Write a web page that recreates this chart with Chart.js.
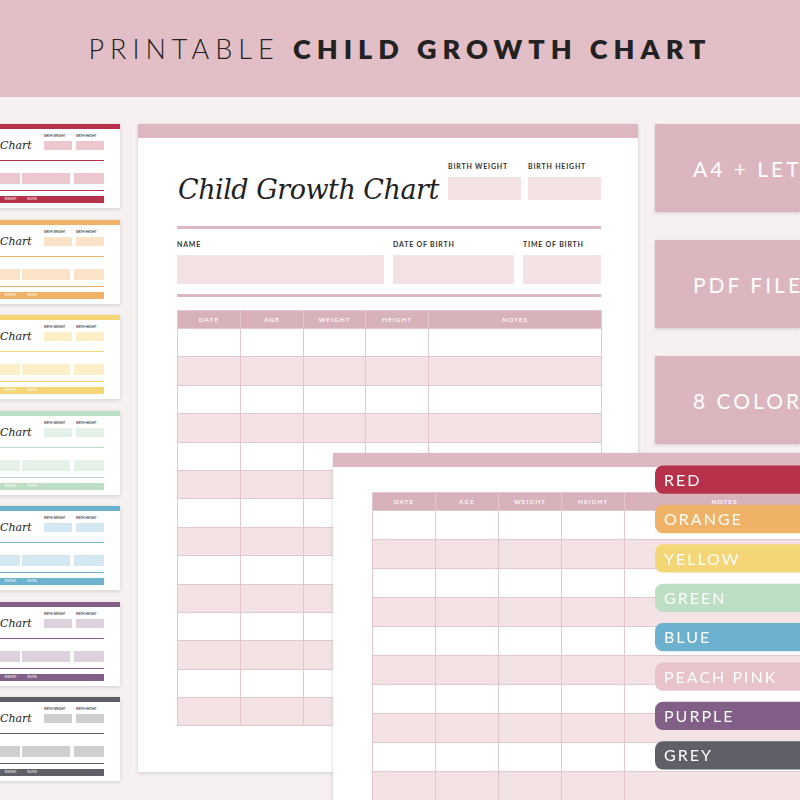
<!DOCTYPE html>
<html><head><meta charset="utf-8">
<script src="https://cdn.jsdelivr.net/npm/chart.js@4/dist/chart.umd.min.js"></script>
<style>
body{margin:0;width:800px;height:800px;overflow:hidden;background:#f6f0f1;font-family:Lato,"Open Sans",sans-serif;position:relative}
.abs{position:absolute}
#top{left:0;top:0;width:800px;height:97px;background:#e2bfc6;display:flex;align-items:center;justify-content:center;font-size:27px;letter-spacing:6px;color:#222;font-weight:300}
#top b{font-weight:800}
.sheet{background:#fff;box-shadow:0 1px 4px rgba(0,0,0,.15)}
.bar{background:#ddb8c0}
.lbl{font-size:7px;font-weight:700;letter-spacing:.8px;color:#333}
.fld{background:#f3e3e5}
.box{background:#dcb6be;color:#fff;font-size:21px;letter-spacing:3px;display:flex;align-items:center;padding-left:38px;box-sizing:border-box;overflow:hidden;white-space:nowrap;left:655px;width:145px;height:88px;box-shadow:0 1px 3px rgba(0,0,0,.15)}
table{border-collapse:collapse;position:absolute;table-layout:fixed}
td,th{border:1px solid #e2c7cc;padding:0}
th{background:#d8b2ba;color:#fff;font-size:6.5px;letter-spacing:1px;font-weight:600}
tr:nth-child(odd) td{background:#f3e3e5}
.script{font-family:"DejaVu Serif",serif;font-style:italic;font-size:27px;color:#222;letter-spacing:-0.5px}
</style></head><body>
<div id="top" class="abs">PRINTABLE&nbsp;<b>CHILD GROWTH CHART</b></div>
<div id="thumbs"></div>
<div class="abs sheet" style="left:138px;top:124px;width:500px;height:648px">
 <div class="bar" style="height:14px"></div>
 <div class="abs script" style="left:40px;top:50px">Child Growth Chart</div>
 <div class="abs lbl" style="left:310px;top:38px">BIRTH WEIGHT</div>
 <div class="abs lbl" style="left:390px;top:38px">BIRTH HEIGHT</div>
 <div class="abs fld" style="left:310px;top:53px;width:73px;height:23px"></div>
 <div class="abs fld" style="left:390px;top:53px;width:73px;height:23px"></div>
 <div class="abs bar" style="left:39px;top:102px;width:424px;height:3px"></div>
 <div class="abs lbl" style="left:39px;top:116px">NAME</div>
 <div class="abs lbl" style="left:255px;top:116px">DATE OF BIRTH</div>
 <div class="abs lbl" style="left:385px;top:116px">TIME OF BIRTH</div>
 <div class="abs fld" style="left:39px;top:131px;width:207px;height:29px"></div>
 <div class="abs fld" style="left:255px;top:131px;width:121px;height:29px"></div>
 <div class="abs fld" style="left:385px;top:131px;width:78px;height:29px"></div>
 <div class="abs bar" style="left:39px;top:170px;width:424px;height:3px"></div>
</div>
<div class="abs box" style="top:124px">A4 + LETTER</div>
<div class="abs box" style="top:240px">PDF FILE</div>
<div class="abs box" style="top:356px">8 COLORS</div>
<div class="abs sheet" style="left:333px;top:453px;width:480px;height:360px"><div class="bar" style="height:14px"></div></div>
<div id="tabs" class="abs" style="left:650px;top:460px;width:150px;height:315px"><canvas id="c" width="150" height="315"></canvas></div>
<script>
const tabLabels=["RED","ORANGE","YELLOW","GREEN","BLUE","PEACH PINK","PURPLE","GREY"];
const tabColors=["#b8314a","#efb266","#f5d677","#bcdec3","#6cb1cd","#e8c3c9","#825f86","#5e5f67"];
const tabValues=[1,1,1,1,1,1,1,1];
const colHeads=["DATE","AGE","WEIGHT","HEIGHT","NOTES"];
const thumbColors=["#b8314a","#efb266","#f5d677","#bcdec3","#6cb1cd","#825f86","#5e5f67"];
const thumbFill=["#ecc7cd","#fbe3c8","#fcefc8","#e4f1e6","#d3e8f1","#ddd1de","#cfcfd2"];

function makeTable(left,top,widths,hh,rh,n,z){
 let t=document.createElement('table');t.style.left=left+'px';t.style.top=top+'px';t.style.zIndex=z;
 t.style.width=widths.reduce((a,b)=>a+b,0)+'px';
 let h='<colgroup>'+widths.map(w=>`<col style="width:${w}px">`).join('')+'</colgroup>';
 h+='<tr>'+colHeads.map(c=>`<th style="height:${hh}px">${c}</th>`).join('')+'</tr>';
 for(let r=0;r<n;r++)h+='<tr>'+widths.map(w=>`<td style="height:${rh}px"></td>`).join('')+'</tr>';
 t.innerHTML=h;document.body.appendChild(t);
}
makeTable(177,310,[63,63,62,63,173],17,27.4,14,1);
document.querySelectorAll('.sheet')[1].style.zIndex=2;
makeTable(372,492,[63,63,63,63,200],17,28,11,3);
const th=document.getElementById('thumbs');
thumbColors.forEach((c,i)=>{
 const y=124+i*95.5,f=thumbFill[i];
 th.innerHTML+=`<div class="abs sheet" style="left:-20px;top:${y}px;width:140px;height:84px;overflow:hidden">
 <div style="height:5px;background:${c}"></div>
 <div class="abs" style="left:20px;top:15px;font:italic 11px 'DejaVu Serif';color:#222">Chart</div>
 <div class="abs" style="left:64px;top:10px;font-size:3px">BIRTH WEIGHT</div><div class="abs" style="left:96px;top:10px;font-size:3px">BIRTH HEIGHT</div>
 <div class="abs" style="left:64px;top:17px;width:28px;height:9px;background:${f}"></div>
 <div class="abs" style="left:96px;top:17px;width:28px;height:9px;background:${f}"></div>
 <div class="abs" style="left:20px;top:36px;width:104px;height:1px;background:${c}"></div>
 <div class="abs" style="left:20px;top:49px;width:20px;height:11px;background:${f}"></div>
 <div class="abs" style="left:42px;top:49px;width:48px;height:11px;background:${f}"></div>
 <div class="abs" style="left:94px;top:49px;width:30px;height:11px;background:${f}"></div>
 <div class="abs" style="left:20px;top:66px;width:104px;height:1px;background:${c}"></div>
 <div class="abs" style="left:20px;top:72px;width:104px;height:7px;background:${c};color:#fff;font-size:3px;line-height:7px">&nbsp;&nbsp;&nbsp;&nbsp;&nbsp;&nbsp;WEIGHT&nbsp;&nbsp;&nbsp;&nbsp;&nbsp;&nbsp;&nbsp;&nbsp;&nbsp;&nbsp;&nbsp;&nbsp;&nbsp;&nbsp;NOTES</div></div>`;
});
document.getElementById('tabs').style.zIndex=5;
new Chart(document.getElementById('c'),{type:'bar',
 data:{labels:tabLabels,datasets:[{data:tabValues,backgroundColor:tabColors,borderRadius:{topLeft:8,bottomLeft:8},borderSkipped:'end',barPercentage:0.72,categoryPercentage:1}]},
 options:{indexAxis:'y',responsive:false,animation:false,events:[],layout:{padding:{left:5}},
  scales:{x:{display:false,min:0,max:1},y:{display:false}},plugins:{legend:{display:false},tooltip:{enabled:false}}},
 plugins:[{id:'txt',afterDatasetsDraw(ch){const ctx=ch.ctx;ctx.save();ctx.fillStyle='#fff';ctx.font='16px Lato';ctx.letterSpacing='2px';ctx.textBaseline='middle';
  ch.getDatasetMeta(0).data.forEach((b,i)=>ctx.fillText(tabLabels[i],14,b.y+1));ctx.restore();}}]
});
</script>
</body></html>
